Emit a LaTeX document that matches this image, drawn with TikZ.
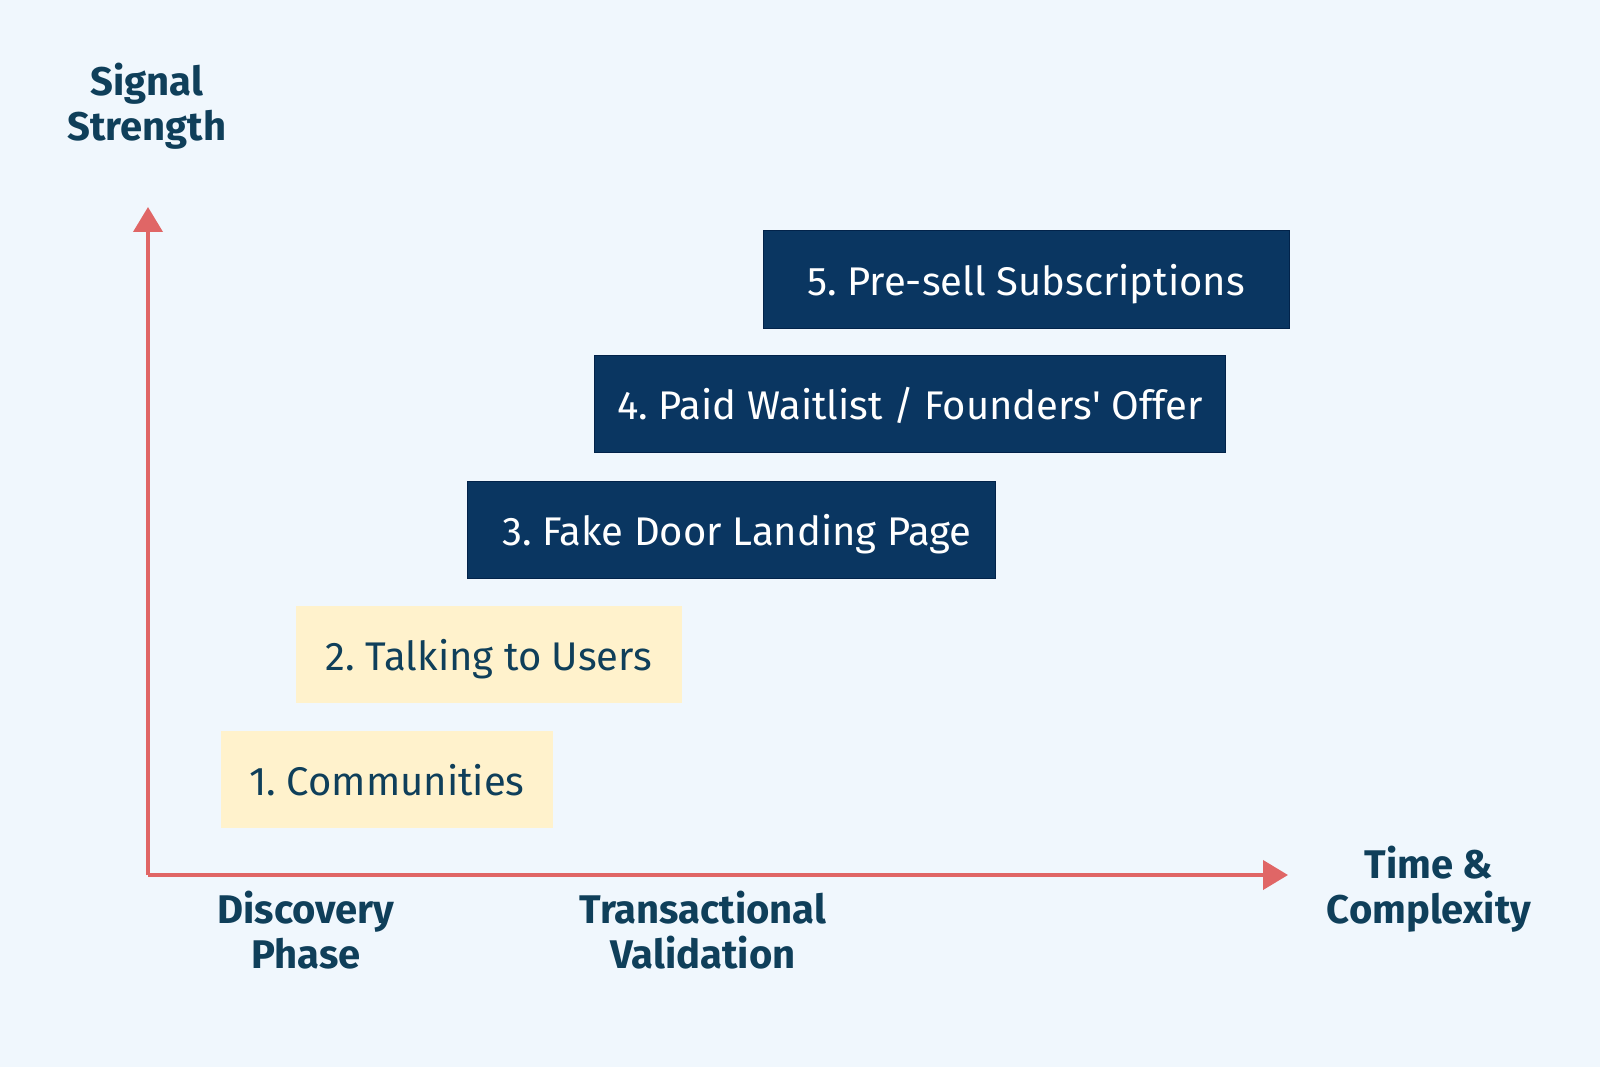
\documentclass[tikz,border=0pt]{standalone}
\usepackage{fontspec}
\setmainfont{Fira Sans}
\usetikzlibrary{arrows.meta}
\definecolor{bgc}{HTML}{F0F7FD}
\definecolor{navybox}{HTML}{0A3661}
\definecolor{navyedge}{HTML}{02234A}
\definecolor{yellowbox}{HTML}{FFF2CC}
\definecolor{inkc}{HTML}{0F3F5A}
\definecolor{redc}{HTML}{E06666}
\tikzset{
  stagebox/.style={inner sep=0pt, minimum height=97pt, text height=32pt, text depth=0pt,
    font=\fontsize{40}{46}\selectfont},
  lowbox/.style={stagebox, fill=yellowbox, text=inkc},
  highbox/.style={stagebox, fill=navybox, draw=navyedge, line width=1pt, text=white},
  axislabel/.style={inner sep=0pt, align=center, text=inkc, font=\fontsize{40}{45}\selectfont\bfseries},
  axisline/.style={draw=redc, line width=4pt, -{Triangle[length=25pt,width=29pt]}}
}
\begin{document}
\frenchspacing
\begin{tikzpicture}[x=1pt,y=-1pt]
\fill[bgc] (0,0) rectangle (1600,1067);
\useasboundingbox (0,0) rectangle (1600,1067);
\coordinate (o) at (148,875);
\coordinate (ytip) at (148,207);
\coordinate (xtip) at (1288,875);
\draw[axisline] (o) -- (ytip);
\draw[axisline] (o) -- (xtip);
\node[lowbox, minimum width=332pt] (s1) at (387,779.5) {1. Communities};
\node[lowbox, minimum width=386pt] (s2) at (489,654) {2. Talking to Users};
\node[highbox, minimum width=528pt] (s3) at (731,529.5) {\hspace*{12pt}3. Fake Door Landing Page};
\node[highbox, minimum width=631pt] (s4) at (910,403.5) {4. Paid Waitlist / Founders\textquotesingle\ Offer};
\node[highbox, minimum width=526pt] (s5) at (1026,279.5) {5. Pre-sell Subscriptions};
\node[axislabel] (ylab) at (147,106) {Signal\\Strength};
\node[axislabel] (xlab) at (1429,889) {Time \&\\Complexity};
\node[axislabel] (disc) at (306,930) {Discovery\\Phase};
\node[axislabel] (trans) at (703,930) {Transactional\\Validation};
\end{tikzpicture}
\end{document}
